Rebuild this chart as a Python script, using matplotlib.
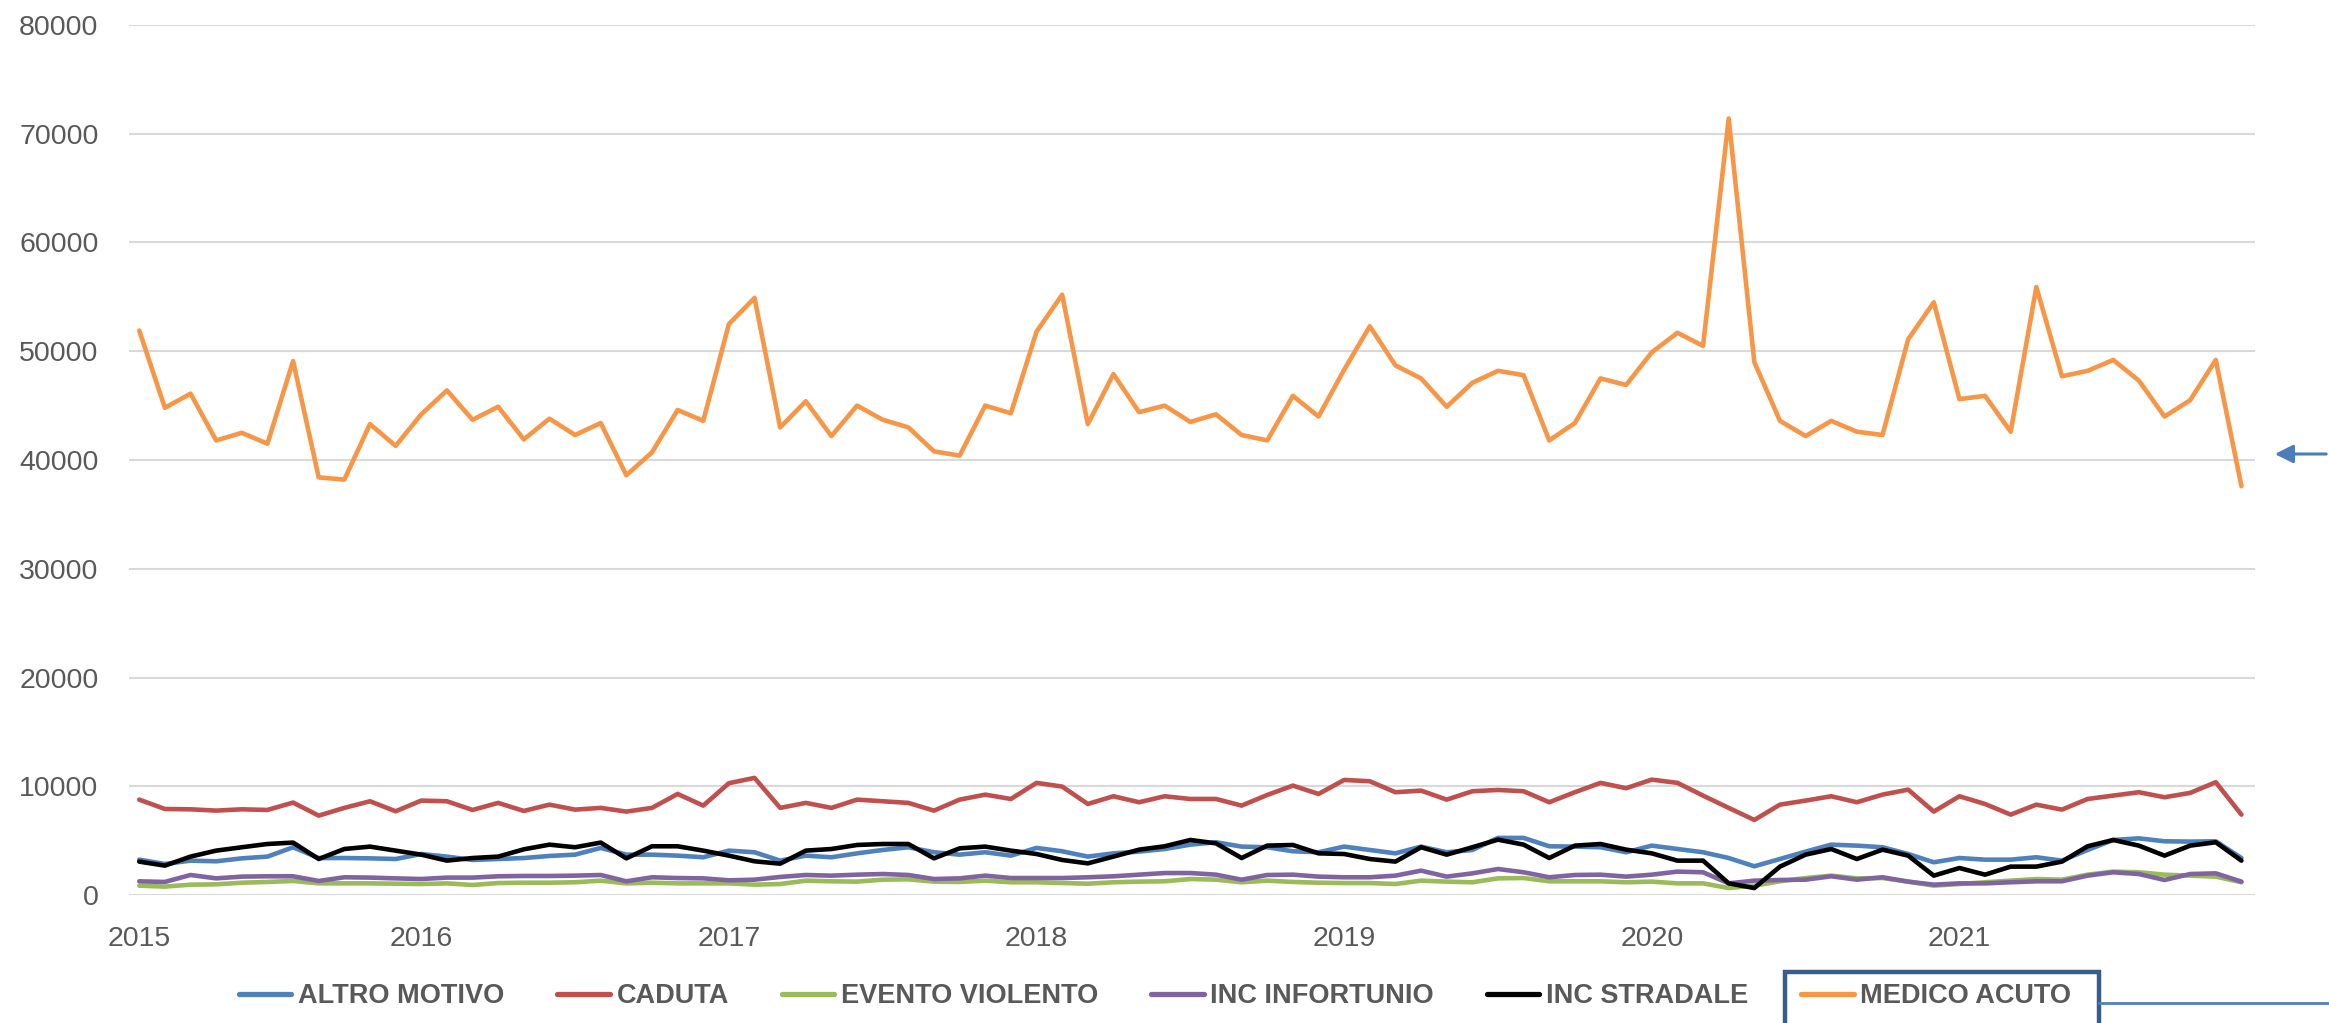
import numpy as np
import pandas as pd
import matplotlib
matplotlib.use("Agg")
import matplotlib.pyplot as plt
from matplotlib.patches import Rectangle
from matplotlib.lines import Line2D

# monthly counts, Feb 2015 - Dec 2021
first_month = "2015-02"
altro_motivo = [3250, 2850, 3160, 3100, 3370, 3530, 4390, 3400, 3400, 3370, 3310, 3770, 3530,
                3220, 3310, 3400, 3590, 3710, 4330, 3710, 3710, 3620, 3470, 4080, 3930, 3160,
                3620, 3470, 3830, 4140, 4390, 3930, 3710, 3930, 3620, 4330, 4020, 3530, 3830,
                3990, 4230, 4630, 4850, 4450, 4390, 4020, 3930, 4450, 4140, 3830, 4450, 3930,
                4140, 5250, 5250, 4480, 4450, 4390, 3930, 4540, 4230, 3930, 3400, 2640, 3310,
                3990, 4630, 4540, 4390, 3770, 3010, 3400, 3250, 3250, 3470, 3160, 4140, 5060,
                5210, 4940, 4910, 4940, 3400]
caduta = [8770, 7910, 7880, 7760, 7880, 7820, 8500, 7300, 8010, 8620, 7700, 8680, 8620,
          7820, 8470, 7730, 8310, 7850, 8010, 7670, 8010, 9290, 8220, 10280, 10770, 8010,
          8470, 8010, 8770, 8620, 8470, 7760, 8770, 9230, 8830, 10310, 9970, 8370, 9080,
          8530, 9080, 8830, 8830, 8220, 9200, 10060, 9290, 10580, 10460, 9450, 9600, 8770,
          9540, 9660, 9540, 8530, 9450, 10310, 9820, 10610, 10310, 9140, 8010, 6900, 8310,
          8680, 9080, 8530, 9230, 9690, 7670, 9080, 8370, 7390, 8310, 7850, 8830, 9140,
          9450, 8990, 9390, 10370, 7390]
evento_violento = [860, 770, 950, 980, 1130, 1200, 1290, 1070, 1070, 1070, 1040, 1010, 1070,
                   920, 1100, 1130, 1130, 1170, 1320, 1070, 1130, 1070, 1070, 1070, 950, 1010,
                   1320, 1260, 1230, 1410, 1440, 1230, 1200, 1320, 1170, 1170, 1100, 1040, 1170,
                   1230, 1260, 1470, 1410, 1170, 1320, 1200, 1130, 1100, 1100, 1010, 1320, 1230,
                   1170, 1530, 1560, 1260, 1260, 1260, 1170, 1230, 1070, 1070, 640, 860, 1260,
                   1560, 1780, 1530, 1560, 1230, 860, 1010, 1170, 1320, 1470, 1410, 1870, 2150,
                   2090, 1870, 1780, 1690, 1170]
inc_infortunio = [1260, 1200, 1840, 1530, 1690, 1720, 1720, 1290, 1630, 1600, 1530, 1470, 1600,
                  1600, 1720, 1750, 1750, 1780, 1840, 1260, 1630, 1560, 1530, 1350, 1410, 1660,
                  1840, 1780, 1870, 1930, 1840, 1470, 1530, 1780, 1560, 1560, 1560, 1630, 1720,
                  1870, 2020, 2020, 1870, 1410, 1840, 1870, 1690, 1630, 1630, 1780, 2240, 1690,
                  1990, 2390, 2090, 1630, 1840, 1870, 1690, 1870, 2150, 2090, 1070, 1320, 1380,
                  1410, 1720, 1410, 1630, 1230, 950, 1070, 1070, 1170, 1260, 1260, 1780, 2090,
                  1930, 1380, 1930, 1990, 1230]
inc_stradale = [3070, 2700, 3530, 4080, 4390, 4690, 4820, 3310, 4230, 4450, 4080, 3710, 3160,
                3400, 3530, 4200, 4630, 4390, 4820, 3370, 4480, 4480, 4080, 3620, 3100, 2880,
                4080, 4230, 4600, 4690, 4690, 3370, 4290, 4450, 4080, 3770, 3220, 2910, 3530,
                4170, 4480, 5060, 4750, 3400, 4540, 4600, 3830, 3770, 3310, 3070, 4390, 3710,
                4390, 5090, 4630, 3400, 4540, 4690, 4170, 3830, 3160, 3160, 1070, 640, 2610,
                3710, 4230, 3310, 4170, 3620, 1780, 2480, 1870, 2610, 2610, 3070, 4480, 5060,
                4540, 3620, 4540, 4850, 3160]
medico_acuto = [51900, 44800, 46100, 41800, 42500, 41500, 49100, 38400, 38200, 43300, 41300,
                44200, 46400, 43700, 44900, 41900, 43800, 42300, 43400, 38600, 40700, 44600,
                43600, 52500, 54900, 43000, 45400, 42200, 45000, 43700, 43000, 40800, 40400,
                45000, 44300, 51800, 55200, 43300, 47900, 44400, 45000, 43500, 44200, 42300,
                41800, 45900, 44000, 48300, 52300, 48700, 47500, 44900, 47100, 48200, 47800,
                41800, 43400, 47500, 46900, 49900, 51700, 50500, 71400, 49000, 43600, 42200,
                43600, 42600, 42300, 51100, 54500, 45600, 45900, 42600, 55900, 47700, 48200,
                49200, 47300, 44000, 45500, 49200, 37600]

series_names = ["ALTRO MOTIVO", "CADUTA", "EVENTO VIOLENTO", "INC INFORTUNIO",
                "INC STRADALE", "MEDICO ACUTO"]
series_values = [altro_motivo, caduta, evento_violento, inc_infortunio,
                 inc_stradale, medico_acuto]
colors = ["#4F81BD", "#C0504D", "#9BBB59", "#8064A2", "#000000", "#F79646"]

gray = "#595959"
plt.rcParams["font.family"] = ["Liberation Sans", "DejaVu Sans"]

months = pd.date_range(first_month, periods=len(medico_acuto), freq="MS")
x = np.arange(len(months))
# year labels sit on January; the first year goes at the first point
tick_pos = [0] + [i for i, m in enumerate(months) if m.month == 1]
tick_lab = [str(months[0].year)] + [str(months[i].year) for i in tick_pos[1:]]

fig = plt.figure(figsize=(23.29, 10.23), dpi=100)
ax = fig.add_axes([129 / 2329, 1 - 895 / 1023, (2255 - 129) / 2329, (895 - 25) / 1023])

for name, vals, c in zip(series_names, series_values, colors):
    ax.plot(x, vals, color=c, lw=3.3, label=name,
            solid_joinstyle="round", solid_capstyle="round")

ax.set_ylim(0, 80000)
ax.set_xlim(-0.4, len(x) - 0.47)
ax.set_yticks(np.arange(0, 80001, 10000))
ax.set_xticks(tick_pos)
ax.set_xticklabels(tick_lab)
ax.grid(axis="y", color="#D9D9D9", lw=1.5)
ax.set_axisbelow(True)
for s in ax.spines.values():
    s.set_visible(False)
ax.tick_params(axis="y", length=0, pad=22, labelsize=20.5, labelcolor=gray)
ax.tick_params(axis="x", length=0, pad=22, labelsize=20.5, labelcolor=gray)

leg = fig.legend(loc="center", bbox_to_anchor=(0.496, 0.026), ncol=6, frameon=False,
                 handlelength=1.93, handletextpad=0.25, columnspacing=1.96,
                 prop={"size": 19.5, "weight": "bold"})
for t in leg.get_texts():
    t.set_color(gray)
for h in leg.legend_handles:
    h.set_linewidth(3.8)

# box around the last legend entry and its pointer line
fig.canvas.draw()
r = fig.canvas.get_renderer()
inv = fig.transFigure.inverted()
tb = inv.transform(leg.get_texts()[-1].get_window_extent(r))
hb = inv.transform(leg.legend_handles[-1].get_window_extent(r))
W, H = 2329, 1023
bx0 = hb[0][0] - 16 / W
bx1 = tb[1][0] + 28 / W
ymid = (tb[0][1] + tb[1][1]) / 2
btop = ymid + 24 / H
fig.patches.append(Rectangle((bx0, -0.05), bx1 - bx0, btop + 0.05, transform=fig.transFigure,
                             fill=False, ec="#385D8A", lw=3.2))
fig.lines.append(Line2D([bx1, 1.0], [ymid - 7 / H] * 2, transform=fig.transFigure,
                        color="#4F81BD", lw=2))

# pointer arrow on the right edge
ya = 1 - 454 / H
ax.annotate("", xy=(2272 / W, ya), xycoords="figure fraction",
            xytext=(1.0, ya), textcoords="figure fraction",
            arrowprops=dict(arrowstyle="-|>,head_length=1.1,head_width=0.55",
                            color="#4A7EBB", lw=2.2))

fig.savefig("out.png", dpi=100)
